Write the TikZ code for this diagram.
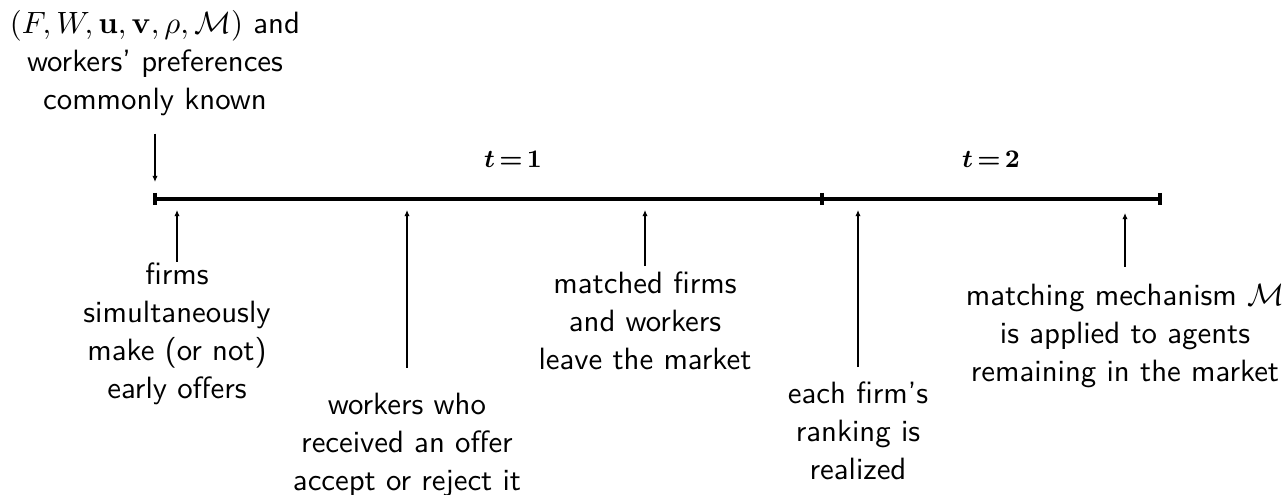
\documentclass[tikz,border=0pt]{standalone}
\usepackage{amsmath,amssymb,bm}
\usetikzlibrary{arrows.meta,calc}
\tikzset{
  txt/.style={align=center, inner sep=0pt, anchor=base, font=\fontsize{10.95}{13.6}\selectfont\sffamily},
  arr/.style={-{Latex[length=2.2pt,width=1.9pt]}, line width=0.4pt},
  tline/.style={line width=1.1pt},
  tickmark/.style={line width=1.3pt},
  plabel/.style={inner sep=0pt, anchor=base, font=\fontsize{9.2}{11}\selectfont}
}
\begin{document}
\begin{tikzpicture}[x=0.3555pt,y=-0.3555pt]
\useasboundingbox (0,0) rectangle (1288,495);
% timeline
\coordinate (s) at (155,199);
\coordinate (m) at (822,199);
\coordinate (e) at (1160,199);
\draw[tline] (s) -- (e);
\draw[tickmark] ($(s)+(0,-6)$) -- ($(s)+(0,6)$);
\draw[tickmark] ($(m)+(0,-6)$) -- ($(m)+(0,6)$);
\draw[tickmark] ($(e)+(0,-6)$) -- ($(e)+(0,6)$);
% period labels
\node[plabel] (t1) at (513,168) {$\bm{t\mkern-2mu=\mkern-2mu1}$};
\node[plabel] (t2) at (991,168) {$\bm{t\mkern-2mu=\mkern-2mu2}$};
% top
\node[txt] (top) at (155,110) {$(F,W,\mathbf{u},\mathbf{v},\rho,\mathcal{M})$ and\\workers' preferences\\commonly known};
\coordinate (ta) at (155,182);
\draw[arr] ([yshift=-6pt]top.south) -- (ta);
% bottom labels
\node[txt] (n1) at (177,399) {firms\\simultaneously\\make (or not)\\early offers};
\node[txt] (n2) at (407,491) {workers who\\received an offer\\accept or reject it};
\node[txt] (n3) at (645,370) {matched firms\\and workers\\leave the market};
\node[txt] (n4) at (858,480) {each firm's\\ranking is\\realized};
\node[txt] (n5) at (1125,382) {matching mechanism $\mathcal{M}$\\is applied to agents\\remaining in the market};
\coordinate (a1) at (177,210);
\coordinate (a2) at (407,210);
\coordinate (a3) at (645,210);
\coordinate (a4) at (858,210);
\coordinate (a5) at (1125,213);
\draw[arr] (n1.north) -- (a1);
\draw[arr] ([yshift=8.8pt]n2.north) -- (a2);
\draw[arr] ([yshift=1.8pt]n3.north) -- (a3);
\draw[arr] ([yshift=5pt]n4.north) -- (a4);
\draw[arr] ([yshift=6pt]n5.north) -- (a5);
\end{tikzpicture}
\end{document}
